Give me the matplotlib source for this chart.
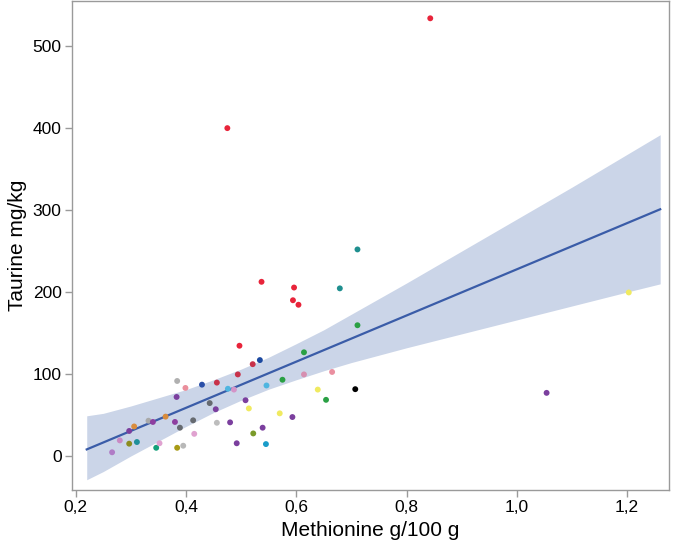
import matplotlib
matplotlib.use("Agg")
import matplotlib.pyplot as plt
from matplotlib.ticker import FuncFormatter

plt.rcParams['font.family'] = ['Liberation Sans', 'DejaVu Sans']

# methionine (g/100 g), taurine (mg/kg), point colour
methionine = [0.266, 0.280, 0.297, 0.311, 0.297, 0.306, 0.332, 0.340, 0.346, 0.352,
              0.363, 0.384, 0.399, 0.383, 0.380, 0.389, 0.384, 0.395, 0.415, 0.413,
              0.429, 0.443, 0.454, 0.456, 0.456, 0.480, 0.492, 0.476, 0.487, 0.494,
              0.497, 0.521, 0.534, 0.508, 0.514, 0.522, 0.539, 0.545, 0.546, 0.711,
              0.537, 0.596, 0.679, 0.594, 0.604, 0.711, 0.614, 0.665, 0.614, 0.575,
              0.707, 0.639, 0.654, 0.570, 0.593, 0.475, 0.843, 1.054, 1.203]
taurine = [4.5, 19, 15, 17, 30.5, 36, 43, 41.5, 10, 15.5,
           48, 91.5, 83, 72, 41.5, 34.5, 10, 12.5, 27, 43.5,
           87, 64.5, 57, 89.5, 40.5, 41, 15.5, 82, 81, 99.5,
           134.5, 112, 117, 68, 58, 27.5, 34.5, 14.5, 86, 252,
           212.5, 205.5, 204.5, 190, 184.5, 159.5, 126.5, 102.5, 99.5, 93,
           81.5, 81, 68.5, 52, 47.5, 400, 534, 77, 199.5]
colors = ['#b07cc6', '#c98ac4', '#8c8c1e', '#1f8f9a', '#7b3f9e', '#d98c3c', '#a9a9a9', '#8e3fa0', '#13a07a', '#e0a2d0',
          '#d98c3c', '#b0b0b0', '#ea8f9c', '#7b3f9e', '#8e3fa0', '#666a70', '#a89b16', '#b8b8b8', '#e0a2d0', '#666a70',
          '#2a4fa8', '#666a70', '#7b3f9e', '#c8324a', '#bdbdbd', '#7b3f9e', '#7b3f9e', '#4fb5e0', '#d494c8', '#c8324a',
          '#e8243a', '#c8324a', '#1c49a0', '#7b3f9e', '#f0ea60', '#7a9a2a', '#7b3f9e', '#1a9cc9', '#4fb5e0', '#1f8f8f',
          '#e8243a', '#e8243a', '#1f8f8f', '#e8243a', '#e8243a', '#2aa044', '#2aa044', '#ea8fa0', '#d68fb0', '#2aa044',
          '#000000', '#f0ea60', '#2aa044', '#f0ea60', '#7b3f9e', '#e8243a', '#e8243a', '#7b3f9e', '#f0ea60']

# fitted line and its confidence band
fit_x = [0.22, 1.26]
fit_y = [8, 301]
band_x = [0.22, 0.25, 0.30, 0.35, 0.40, 0.45, 0.50, 0.55, 0.60, 0.65, 0.70,
          0.80, 0.90, 1.00, 1.10, 1.20, 1.26]
band_lo = [-29, -19, 0, 18, 36, 53, 68, 81.5, 93, 104, 114,
           132, 149, 166, 183, 200, 210]
band_hi = [49, 52, 61, 71, 81, 93, 106, 120.5, 137, 154, 173,
           211, 250, 289, 328, 368, 392]

fig = plt.figure(figsize=(6.74, 5.46), dpi=100)
ax = fig.add_axes([0.107, 0.1026, 0.8856, 0.8954])

ax.fill_between(band_x, band_lo, band_hi, color='#cbd5e8', linewidth=0)
ax.plot(fit_x, fit_y, color='#3a5ca8', linewidth=1.6)
ax.scatter(methionine, taurine, c=colors, s=18, linewidths=0, zorder=3)

ax.set_xlim(0.1935, 1.276)
ax.set_ylim(-41.5, 555)
ax.set_xticks([0.2, 0.4, 0.6, 0.8, 1.0, 1.2])
ax.set_yticks([0, 100, 200, 300, 400, 500])
ax.xaxis.set_major_formatter(FuncFormatter(lambda v, p: f"{v:.1f}".replace('.', ',')))

for s in ax.spines.values():
    s.set_color('#9a9a9a')
    s.set_linewidth(1)
ax.tick_params(colors='#9a9a9a', labelcolor='black', labelsize=12.5, length=5, width=1, pad=2.5)

ax.set_xlabel('Methionine g/100 g', fontsize=15)
ax.set_ylabel('Taurine mg/kg', fontsize=15)

plt.savefig('out.png', dpi=100)
